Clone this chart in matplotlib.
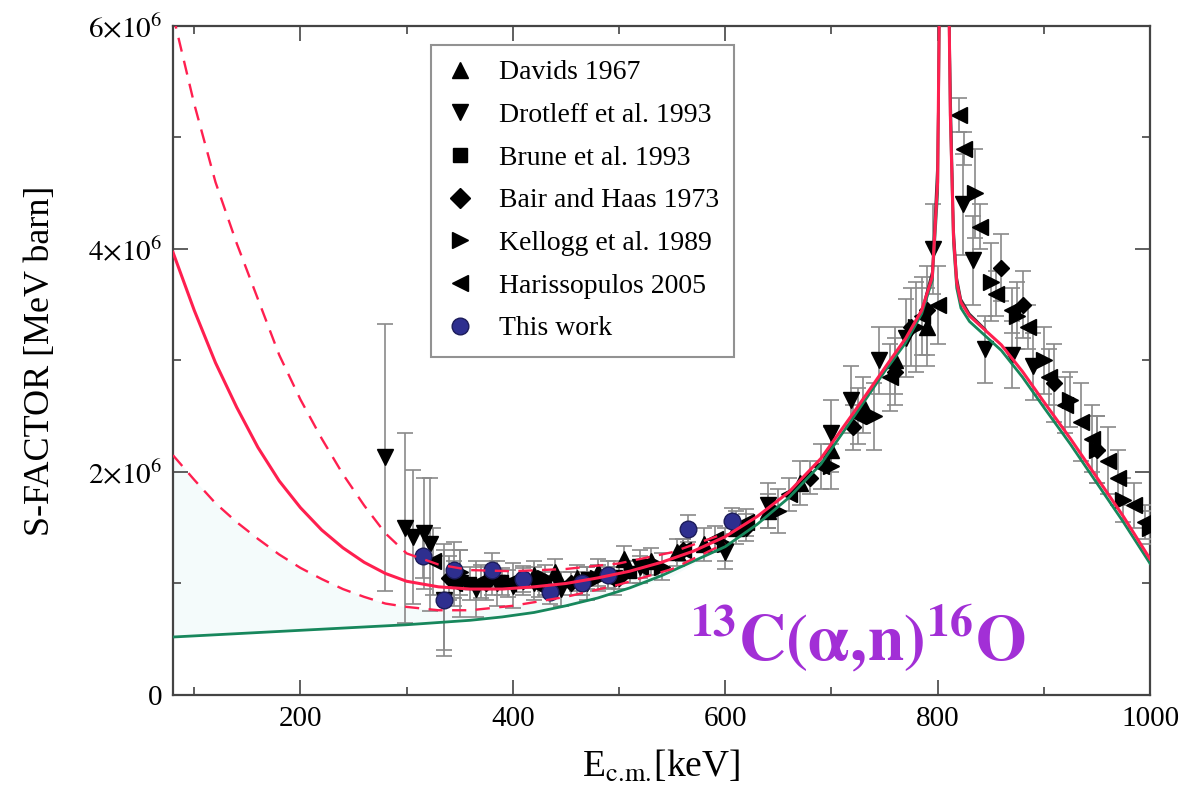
import numpy as np
import matplotlib
matplotlib.use('Agg')
import matplotlib.pyplot as plt
from matplotlib.ticker import MultipleLocator, FixedLocator
from matplotlib.lines import Line2D

plt.rcParams['font.family'] = ['Liberation Serif', 'DejaVu Serif']
plt.rcParams['mathtext.fontset'] = 'stix'

# model curves (E in keV, S in 1e6 MeV b)
curve_e = [80, 100, 120, 140, 160, 180, 200, 220, 240, 260, 280, 300, 330, 360, 390, 420, 450,
           480, 510, 540, 570, 600, 630, 660, 690, 720, 750, 770, 785, 795, 800, 803, 806, 809,
           812, 815, 818, 822, 830, 845, 860, 880, 900, 925, 950, 975, 1000]
red_s = [3.97, 3.45, 2.98, 2.58, 2.22, 1.92, 1.68, 1.48, 1.32, 1.19, 1.09, 1.02, 0.97, 0.95, 0.95,
         0.97, 1.0, 1.05, 1.11, 1.19, 1.29, 1.42, 1.6, 1.82, 2.12, 2.52, 2.93, 3.2, 3.45, 3.75, 4.6,
         7.5, 9.5, 7.5, 5.2, 4.1, 3.7, 3.52, 3.4, 3.27, 3.14, 2.9, 2.63, 2.3, 1.95, 1.6, 1.22]
green_s = [0.52, 0.53, 0.54, 0.55, 0.56, 0.57, 0.58, 0.59, 0.6, 0.61, 0.62, 0.63, 0.65, 0.67, 0.7,
           0.74, 0.8, 0.87, 0.96, 1.07, 1.2, 1.33, 1.53, 1.77, 2.07, 2.48, 2.9, 3.16, 3.42, 3.72, 4.5,
           7.5, 9.5, 7.5, 5.2, 4.05, 3.65, 3.47, 3.35, 3.22, 3.09, 2.85, 2.58, 2.25, 1.9, 1.55, 1.18]
dash_e = [80, 100, 120, 140, 160, 180, 200, 220, 240, 260, 280, 300, 330, 360, 400, 450, 500, 550, 600]
upper_s = [6.1, 5.3, 4.6, 4.05, 3.55, 3.05, 2.65, 2.3, 1.98, 1.7, 1.45, 1.27, 1.17, 1.12, 1.11,
           1.13, 1.18, 1.28, 1.45]
lower_s = [2.15, 1.93, 1.72, 1.55, 1.4, 1.26, 1.14, 1.04, 0.95, 0.88, 0.82, 0.79, 0.76, 0.76, 0.8,
           0.88, 0.99, 1.13, 1.36]
green_on_dash = [0.52, 0.53, 0.54, 0.55, 0.56, 0.57, 0.58, 0.59, 0.6, 0.61, 0.62, 0.63, 0.65,
                 0.67, 0.72, 0.8, 0.92, 1.07, 1.33]
black_e = [770, 785, 795, 800, 803, 806, 809, 812, 815, 818, 822, 830, 845]
black_s = [3.18, 3.44, 3.8, 4.8, 7.5, 9.5, 7.5, 5.5, 4.2, 3.75, 3.55, 3.42, 3.28]

# data sets: energy, S-factor, error
davids_e = [420, 440, 460, 480, 505, 530, 555, 580, 610, 640, 670, 700, 730, 760, 790]
davids_s = [1.08, 1.1, 1.05, 1.1, 1.22, 1.2, 1.28, 1.35, 1.5, 1.65, 1.9, 2.2, 2.6, 3.0, 3.3]
davids_err = [0.12, 0.12, 0.12, 0.12, 0.12, 0.12, 0.12, 0.15, 0.15, 0.15, 0.2, 0.2, 0.25, 0.3, 0.35]

drot_e = [280, 298, 306, 316, 322, 335, 350, 365, 385, 400, 420, 445, 470, 495, 520, 600, 640,
          700, 718, 745, 770, 796, 824, 833, 845, 870, 890]
drot_s = [2.13, 1.5, 1.42, 1.45, 1.35, 0.85, 1.0, 0.95, 1.0, 0.98, 1.0, 0.95, 1.0, 1.05, 1.15,
          1.28, 1.7, 2.35, 2.65, 3.0, 3.2, 4.0, 4.4, 3.9, 3.1, 3.05, 2.95]
drot_err = [1.2, 0.85, 0.6, 0.5, 0.6, 0.5, 0.3, 0.25, 0.2, 0.2, 0.15, 0.15, 0.15, 0.15, 0.15,
            0.15, 0.2, 0.3, 0.3, 0.3, 0.35, 0.4, 0.45, 0.4, 0.3, 0.3, 0.3]

brune_e = [360, 390, 430, 470, 510]
brune_s = [1.0, 1.02, 1.0, 1.05, 1.1]
brune_err = [0.15, 0.12, 0.1, 0.1, 0.1]

bair_e = [340, 375, 410, 455, 500, 560, 620, 680, 720, 760, 775, 790, 860, 880, 910, 950]
bair_s = [1.05, 1.0, 1.02, 1.0, 1.05, 1.3, 1.5, 1.95, 2.4, 2.9, 3.3, 3.45, 3.83, 3.5, 2.8, 2.2]
bair_err = [0.2, 0.15, 0.12, 0.1, 0.1, 0.1, 0.12, 0.15, 0.2, 0.3, 0.35, 0.4, 0.3, 0.3, 0.35, 0.3]

kell_e = [350, 380, 430, 480, 540, 600, 650, 700, 740, 780, 835, 850, 875, 900, 925, 950, 975, 1000]
kell_s = [1.1, 1.05, 1.05, 1.05, 1.15, 1.35, 1.65, 2.05, 2.5, 3.3, 4.5, 3.7, 3.4, 3.0, 2.65,
          2.2, 1.75, 1.5]
kell_err = [0.2, 0.15, 0.12, 0.12, 0.12, 0.15, 0.2, 0.2, 0.3, 0.4, 0.4, 0.35, 0.3, 0.3, 0.25,
            0.3, 0.2, 0.15]

hari_e = [325, 345, 370, 395, 425, 460, 490, 520, 560, 590, 620, 660, 690, 725, 755, 785, 800,
          820, 825, 840, 855, 870, 885, 905, 920, 935, 945, 960, 970, 985, 995]
hari_s = [1.2, 1.0, 1.02, 1.0, 0.98, 1.0, 1.05, 1.15, 1.3, 1.4, 1.55, 1.8, 2.05, 2.5, 2.85, 3.4,
          3.5, 5.2, 4.9, 4.2, 3.6, 3.45, 3.3, 2.85, 2.6, 2.45, 2.3, 2.1, 1.95, 1.7, 1.55]
hari_err = [0.3, 0.2, 0.15, 0.12, 0.1, 0.1, 0.1, 0.1, 0.1, 0.12, 0.12, 0.15, 0.2, 0.25, 0.3,
            0.35, 0.35, 0.15, 0.15, 0.2, 0.2, 0.2, 0.2, 0.25, 0.25, 0.35, 0.3, 0.3, 0.25, 0.2, 0.15]

work_e = [315, 335, 345, 380, 410, 435, 465, 490, 565, 606]
work_s = [1.25, 0.85, 1.12, 1.12, 1.04, 0.92, 1.0, 1.08, 1.49, 1.56]
work_err = [0.2, 0.45, 0.25, 0.15, 0.12, 0.1, 0.1, 0.12, 0.12, 0.12]

M = 1e6

fig = plt.figure(figsize=(11.89, 8.07), dpi=100)
ax = fig.add_axes([0.1455, 0.1388, 0.8217, 0.829])

# very faint shading between the green curve and the lower band
ax.fill_between(dash_e, np.array(green_on_dash) * M, np.array(lower_s) * M,
                color='#f4fbfb', lw=0, zorder=0)

sets = [
    (davids_e, davids_s, davids_err, '^', 'Davids 1967'),
    (drot_e, drot_s, drot_err, 'v', 'Drotleff et al. 1993'),
    (brune_e, brune_s, brune_err, 's', 'Brune et al. 1993'),
    (bair_e, bair_s, bair_err, 'D', 'Bair and Haas 1973'),
    (kell_e, kell_s, kell_err, '>', 'Kellogg et al. 1989'),
    (hari_e, hari_s, hari_err, '<', 'Harissopulos 2005'),
]
handles = []
for e, s, err, mk, lab in sets:
    ms = 8.5 if mk in ('s', 'D') else 12
    ax.errorbar(e, np.array(s) * M, yerr=np.array(err) * M, fmt=mk, color='black', ms=ms,
                ecolor='#8a8a8a', elinewidth=1.2, capsize=6, capthick=1.2, zorder=3)
    handles.append(Line2D([], [], ls='none', marker=mk, color='black',
                          ms=10 if mk in ('s', 'D') else 11, label=lab))
ax.errorbar(work_e, np.array(work_s) * M, yerr=np.array(work_err) * M, fmt='o',
            color='#2e2f8f', mec='#1c1c5a', ms=12, ecolor='#8a8a8a', elinewidth=1.2,
            capsize=6, capthick=1.2, zorder=3)
handles.append(Line2D([], [], ls='none', marker='o', color='#2e2f8f', mec='#1c1c5a', ms=12,
                      label='This work'))

ax.plot(black_e, np.array(black_s) * M, color='#333333', lw=1.6, zorder=4)
ax.plot(curve_e, np.array(green_s) * M, color='#17875c', lw=2.0, zorder=5)
ax.plot(curve_e, np.array(red_s) * M, color='#ff1f4f', lw=2.2, zorder=6)
ax.plot(dash_e, np.array(upper_s) * M, color='#ff1f4f', lw=1.7, ls=(0, (6, 4)), zorder=6)
ax.plot(dash_e, np.array(lower_s) * M, color='#ff1f4f', lw=1.7, ls=(0, (6, 4)), zorder=6)

ax.set_xlim(80, 1000)
ax.set_ylim(0, 6 * M)
ax.xaxis.set_major_locator(MultipleLocator(200))
ax.xaxis.set_minor_locator(MultipleLocator(100))
ax.yaxis.set_major_locator(FixedLocator([0, 2 * M, 4 * M, 6 * M]))
ax.yaxis.set_minor_locator(FixedLocator([1 * M, 3 * M, 5 * M]))
ax.set_yticklabels(['0', r'$2{\times}10^{6}$', r'$4{\times}10^{6}$', r'$6{\times}10^{6}$'])
ax.tick_params(which='both', direction='in', top=True, right=True, labelsize=21,
               color='#444444', width=1.2)
ax.tick_params(which='major', length=11, pad=8)
ax.tick_params(which='minor', length=6)
for sp in ax.spines.values():
    sp.set_color('#444444')
    sp.set_linewidth(1.6)

ax.set_xlabel(r'E$_{\rm c.\!m.\!}$[keV]', fontsize=27, labelpad=12)
ax.set_ylabel('S-FACTOR [MeV barn]', fontsize=26, labelpad=22)

leg = ax.legend(handles=handles, loc='upper left', bbox_to_anchor=(0.264, 0.972), fontsize=20,
                frameon=True, fancybox=False, edgecolor='#777777', handletextpad=0.9,
                labelspacing=0.62, borderpad=0.55, handlelength=1.0, borderaxespad=0)
leg.get_frame().set_linewidth(1.5)

ax.text(0.528, 0.052, r'$\mathbf{^{13}C(\alpha,\!n)^{16}O}$', transform=ax.transAxes,
        fontsize=47, color='#a22fd6', va='baseline', ha='left', zorder=10)

fig.savefig('out.png', dpi=100)
